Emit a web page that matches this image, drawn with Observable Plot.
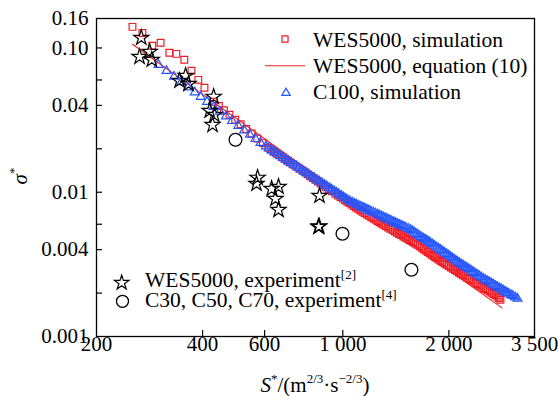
<!DOCTYPE html>
<html><head><meta charset="utf-8">
<script src="https://cdn.jsdelivr.net/npm/d3@7"></script>
<script src="https://cdn.jsdelivr.net/npm/@observablehq/plot@0.6"></script>
<style>
body{margin:0;background:#fff;}
#chart{position:relative;width:558px;height:396px;}
</style></head><body><div id="chart"></div>
<script>
// ---------- data (S*, sigma*) ----------
const wesSimulation = [
 [253,0.140],[270,0.127],[288,0.1035],[304,0.1086],[322,0.0925],[337,0.091],[355,0.0828],[372,0.0695],[389,0.0601],[405,0.053],
 [430,0.0424],[445,0.0396],[460,0.0370],[477,0.0344],[495,0.0318],[513,0.0296],[532,0.0274],[551,0.0255],[572,0.0236],[593,0.0219],
 [615,0.0203],[626,0.0197],[638,0.0191],[650,0.0185],[661,0.0180],[673,0.0175],[685,0.0170],[697,0.01652],[710,0.01604],[724,0.01554],
 [738,0.01505],[753,0.01456],[769,0.01408],[782,0.01368],[795,0.01330],[808,0.01292],[822,0.01256],[836,0.01220],[850,0.01186],[865,0.01151],
 [880,0.01118],[895,0.01087],[910,0.01056],[930,0.01017],[953,0.00976],[969,0.00950],[985,0.00925],[1000,0.00903],[1015,0.00881],[1030,0.00860],
 [1045,0.00840],[1060,0.00821],[1075,0.00802],[1090,0.00784],[1105,0.00767],[1121,0.00749],[1137,0.00732],[1153,0.00716],[1170,0.00701],[1187,0.00686],
 [1205,0.00671],[1222,0.00657],[1240,0.00643],[1255,0.00631],[1270,0.00620],[1287,0.00607],[1305,0.00595],[1325,0.00582],[1345,0.00570],[1365,0.00558],
 [1385,0.00546],[1405,0.00535],[1425,0.00524],[1445,0.00514],[1465,0.00504],[1485,0.00494],[1505,0.00485],[1525,0.00476],[1545,0.00467],[1565,0.00458],
 [1585,0.00450],[1607,0.00441],[1629,0.00432],[1652,0.00422],[1675,0.00412],[1697,0.00403],[1720,0.00394],[1742,0.00385],[1765,0.00377],[1787,0.00369],
 [1810,0.00361],[1830,0.00354],[1850,0.00348],[1871,0.00341],[1893,0.00335],[1919,0.00328],[1945,0.00321],[1972,0.00314],[2000,0.00308],[2027,0.00301],
 [2055,0.00295],[2082,0.00289],[2110,0.00283],[2137,0.00277],[2165,0.00272],[2195,0.00266],[2225,0.00261],[2255,0.00255],[2285,0.00250],[2317,0.00245],
 [2349,0.00240],[2380,0.00235],[2410,0.00231],[2442,0.00226],[2475,0.00222],[2507,0.00217],[2540,0.00213],[2575,0.00209],[2610,0.00205],[2645,0.00201],
 [2680,0.00197],[2714,0.00193],[2748,0.00189],[2775,0.00185],[2802,0.00180]
];
const wesEquation = [[253,0.106],[1000,0.0096],[2830,0.00158]];
const c100Simulation = [
 [300,0.0764],[316,0.0694],[332,0.0633],[348,0.0580],[364,0.0534],[380,0.0493],[395,0.0459],[412,0.0424],[430,0.0391],[448,0.0362],
 [466,0.0336],[485,0.0312],[505,0.0289],[525,0.0269],[545,0.0251],[565,0.0234],[584,0.0220],[605,0.0208],[616,0.0202],[628,0.0196],
 [640,0.0190],[651,0.0185],[663,0.0179],[675,0.0174],[688,0.01693],[700,0.01647],[712,0.01601],[725,0.01557],[738,0.01515],[750,0.01475],
 [763,0.01435],[776,0.01396],[789,0.01360],[802,0.01325],[816,0.01289],[830,0.01254],[844,0.01221],[858,0.01190],[872,0.01160],[886,0.01130],
 [900,0.01102],[915,0.01074],[930,0.01047],[945,0.01020],[960,0.00995],[975,0.00970],[990,0.00947],[1005,0.00924],[1020,0.00903],[1035,0.00882],
 [1050,0.00864],[1065,0.00847],[1080,0.00833],[1095,0.00820],[1110,0.00807],[1125,0.00795],[1140,0.00783],[1155,0.00772],[1170,0.00761],[1185,0.00750],
 [1202,0.00737],[1220,0.00725],[1237,0.00713],[1255,0.00702],[1272,0.00691],[1290,0.00680],[1307,0.00670],[1325,0.00660],[1342,0.00650],[1360,0.00640],
 [1377,0.00631],[1395,0.00622],[1412,0.00613],[1430,0.00605],[1450,0.00595],[1470,0.00586],[1490,0.00577],[1510,0.00568],[1533,0.00558],[1556,0.00549],
 [1578,0.00537],[1600,0.00525],[1622,0.00513],[1645,0.00502],[1667,0.00491],[1690,0.00481],[1710,0.00472],[1730,0.00464],[1751,0.00455],[1773,0.00446],
 [1796,0.00436],[1820,0.00426],[1845,0.00416],[1870,0.00407],[1895,0.00398],[1920,0.00389],[1945,0.00381],[1970,0.00373],[1995,0.00365],[2020,0.00357],
 [2045,0.00349],[2070,0.00342],[2093,0.00336],[2116,0.00330],[2143,0.00323],[2170,0.00317],[2197,0.00311],[2225,0.00305],[2252,0.00299],[2280,0.00293],
 [2310,0.00287],[2340,0.00281],[2370,0.00275],[2400,0.00270],[2435,0.00264],[2470,0.00258],[2505,0.00252],[2540,0.00247],[2575,0.00242],[2610,0.00238],
 [2645,0.00233],[2680,0.00229],[2715,0.00224],[2750,0.00220],[2785,0.00216],[2820,0.00213],[2855,0.00209],[2890,0.00205],[2925,0.00201],[2960,0.00198],
 [3000,0.00194],[3040,0.00191],[3085,0.00187],[3132,0.00183]
];
const wesExperiment = [
 [268,0.1176],[265,0.0868],[283,0.0941],[287,0.0828],
 [358,0.0641],[344,0.0592],[365,0.0564],
 [430,0.0459],[419,0.0367],[432,0.0344],[427,0.0293],
 [573,0.0126],[569,0.01144],[628,0.01056],[657,0.01091],[644,0.00901],[657,0.00755],
 [859,0.00945],[853,0.00576],[857,0.0058]
];
const cExperiment = [[496,0.0231],[998,0.00515],[1566,0.0029]];

const xTicks = [200,400,600,1000,2000,3500];
const xTickLabels = ["200","400","600","1 000","2 000","3 500"];
const yTicks = [0.001,0.002,0.004,0.006,0.01,0.02,0.04,0.06,0.1,0.16];
const yLabeled = [0.001,0.004,0.01,0.04,0.1,0.16];
const yTickLabels = ["0.001","0.004","0.01","0.04","0.10","0.16"];

const legendTop = ["WES5000, simulation","WES5000, equation (10)","C100, simulation"];
const legendBottom = [["WES5000, experiment","[2]"],["C30, C50, C70, experiment","[4]"]];

// ---------- style ----------
const W=558,H=396,ML=96,MR=24,MT=18,MB=60;
const FONT="'Liberation Serif','Times New Roman',Tinos,serif";
const RED="#f01c24", BLUE="#2456ff";
const R_SQ=3.8, R_TRI=3.3, R_STAR=4.8, R_CIRC=6.4;

const plot = Plot.plot({
  width:W,height:H,marginLeft:ML,marginRight:MR,marginTop:MT,marginBottom:MB,
  style:{fontFamily:FONT,fontSize:"21px",color:"#000",background:"#fff",overflow:"visible"},
  x:{type:"log",domain:[200,3500]},
  y:{type:"log",domain:[0.001,0.16]},
  marks:[
    Plot.dot(wesSimulation,{x:d=>d[0],y:d=>d[1],symbol:"square",r:R_SQ,stroke:RED,strokeWidth:1.2,fill:"none"}),
    Plot.line(wesEquation,{x:d=>d[0],y:d=>d[1],stroke:RED,strokeWidth:1.1}),
    Plot.dot(c100Simulation,{x:d=>d[0],y:d=>d[1],symbol:"triangle",r:R_TRI,stroke:BLUE,strokeWidth:1.2,fill:"none"}),
    Plot.dot(wesExperiment,{x:d=>d[0],y:d=>d[1],symbol:"star",r:R_STAR,stroke:"#000",strokeWidth:1.2,fill:"none"}),
    Plot.dot(cExperiment,{x:d=>d[0],y:d=>d[1],symbol:"circle",r:R_CIRC,stroke:"#000",strokeWidth:1.3,fill:"none"}),
    Plot.frame({stroke:"#000",strokeWidth:1.3}),
    Plot.tickX(xTicks.slice(1,-1),{x:d=>d,insetTop:H-MT-MB-6,stroke:"#000",strokeWidth:1.2}),
    Plot.tickY(yTicks.slice(1,-1),{y:d=>d,insetRight:W-ML-MR-6,stroke:"#000",strokeWidth:1.2}),
    Plot.axisX({ticks:xTicks,tickFormat:d=>xTickLabels[xTicks.indexOf(d)],tickSize:0,tickPadding:0,fontSize:21,label:null}),
    Plot.axisY({ticks:yLabeled,tickFormat:d=>yTickLabels[yLabeled.indexOf(d)],tickSize:0,tickPadding:8,fontSize:21,label:null})
  ]
});
document.getElementById("chart").appendChild(plot);

// ---------- legends & axis titles ----------
const svg = d3.select(plot);
const g = svg.append("g").attr("font-family",FONT).attr("font-size",21.5).attr("fill","#000").attr("text-anchor","start");
const sym = (type,r)=>d3.symbol(type,r*r*Math.PI)();

// top-right legend
const l1 = [{y:46.5,kind:"square"},{y:72.8,kind:"line"},{y:99,kind:"triangle"}];
l1.forEach((e,i)=>{
  if(e.kind==="square") g.append("path").attr("d",sym(d3.symbolSquare,R_SQ*0.9)).attr("transform",`translate(285,${e.y-7.5})`).attr("fill","none").attr("stroke",RED).attr("stroke-width",1.2);
  if(e.kind==="line") g.append("line").attr("x1",265).attr("x2",305).attr("y1",e.y-7).attr("y2",e.y-7).attr("stroke",RED).attr("stroke-width",1.1);
  if(e.kind==="triangle") g.append("path").attr("d",sym(d3.symbolTriangle,R_TRI*0.95)).attr("transform",`translate(286,${e.y-6})`).attr("fill","none").attr("stroke",BLUE).attr("stroke-width",1.2);
  g.append("text").attr("x",313).attr("y",e.y).attr("text-anchor","start").text(legendTop[i]);
});

// bottom-left legend
const l2 = [{y:287.3,kind:"star"},{y:307.3,kind:"circle"}];
l2.forEach((e,i)=>{
  if(e.kind==="star") g.append("path").attr("d",sym(d3.symbolStar,R_STAR*0.95)).attr("transform",`translate(121.7,${e.y-4.5})`).attr("fill","none").attr("stroke","#000").attr("stroke-width",1.2);
  if(e.kind==="circle") g.append("circle").attr("cx",122.5).attr("cy",e.y-6).attr("r",6).attr("fill","none").attr("stroke","#000").attr("stroke-width",1.3);
  const t = g.append("text").attr("x",145).attr("y",e.y).attr("text-anchor","start");
  t.append("tspan").text(legendBottom[i][0]);
  t.append("tspan").attr("font-size",13).attr("dy",-8).text(legendBottom[i][1]);
});

// x axis title
const xt = g.append("text").attr("x",315).attr("y",392).attr("text-anchor","middle").attr("font-size",21);
xt.append("tspan").attr("font-style","italic").text("S");
xt.append("tspan").attr("font-size",13).attr("dy",-9).text("*");
xt.append("tspan").attr("dy",9).text("/(m");
xt.append("tspan").attr("font-size",13).attr("dy",-9).text("2/3");
xt.append("tspan").attr("dy",9).text("·s");
xt.append("tspan").attr("font-size",13).attr("dy",-9).text("−2/3");
xt.append("tspan").attr("dy",9).text(")");

// y axis title
const yt = g.append("text").attr("transform","translate(27,176) rotate(-90)").attr("text-anchor","middle").attr("font-size",21);
yt.append("tspan").attr("font-style","italic").text("σ");
yt.append("tspan").attr("font-size",13).attr("dy",-9).text("*");
</script></body></html>
